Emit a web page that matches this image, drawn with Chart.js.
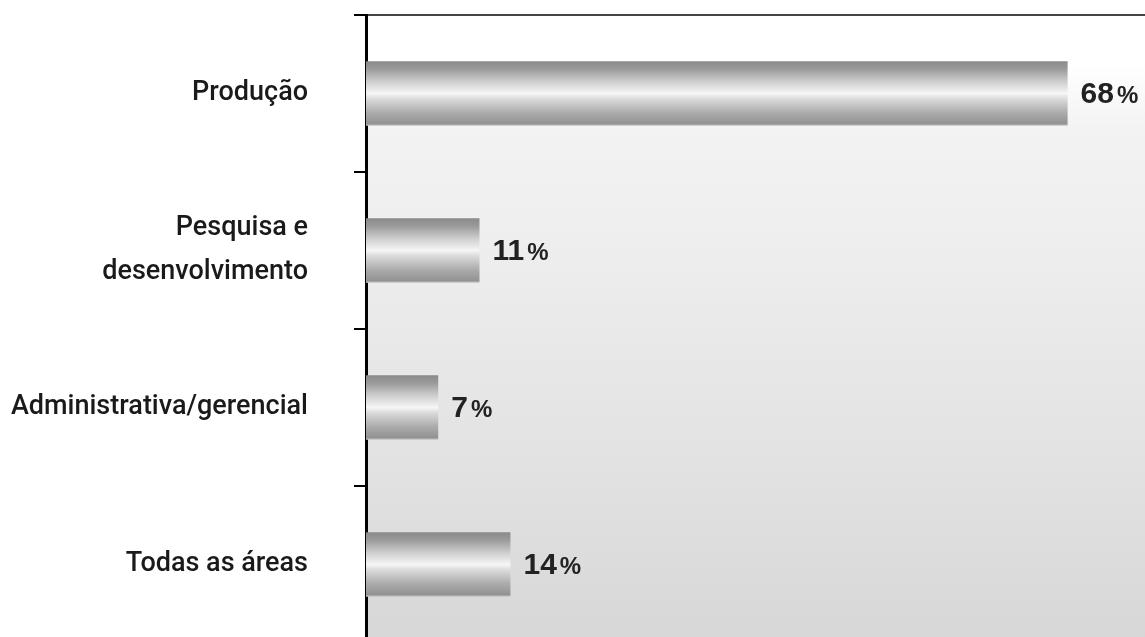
<!DOCTYPE html>
<html>
<head>
<meta charset="utf-8">
<script src="https://cdn.jsdelivr.net/npm/chart.js@4.4.1/dist/chart.umd.min.js"></script>
<style>
  html, body { margin: 0; padding: 0; background: #fff; overflow: hidden; }
  #wrap { width: 1145px; height: 645px; position: relative; }
</style>
</head>
<body>
<div id="wrap"><canvas id="areaChart"></canvas></div>
<script>
// Áreas de atuação (%)
const categorias = ['Produção', ['Pesquisa e', 'desenvolvimento'], 'Administrativa/gerencial', 'Todas as áreas'];
const valores = [68, 11, 7, 14];
const eixoMax = 75.5;

const barPct = 0.41;

// gradiente metálico das barras, calculado a partir da escala do eixo y
function barGradient(c) {
    const chart = c.chart;
    const yScale = chart.scales.y;
    if (!yScale || !chart.chartArea) return '#b0b0b0';
    const cy = yScale.getPixelForValue(c.dataIndex);
    const h = (yScale.height / categorias.length) * barPct;
    const g = chart.ctx.createLinearGradient(0, cy - h / 2, 0, cy + h / 2);
    g.addColorStop(0, '#8a8a8a');
    g.addColorStop(0.12, '#9a9a9a');
    g.addColorStop(0.32, '#cfcfcf');
    g.addColorStop(0.5, '#f6f6f6');
    g.addColorStop(0.58, '#dcdcdc');
    g.addColorStop(0.8, '#ababab');
    g.addColorStop(0.97, '#929292');
    g.addColorStop(1, '#c8c8c8');
    return g;
}

const fundoPlugin = {
    id: 'fundo',
    beforeDraw(chart) {
        const { ctx, chartArea: a } = chart;
        const g = ctx.createLinearGradient(0, a.top, 0, a.bottom);
        g.addColorStop(0, '#ffffff');
        g.addColorStop(0.08, '#ffffff');
        g.addColorStop(0.18, '#f3f3f3');
        g.addColorStop(0.36, '#eeeeee');
        g.addColorStop(0.69, '#e3e3e3');
        g.addColorStop(1, '#d7d7d7');
        ctx.save();
        ctx.fillStyle = g;
        ctx.fillRect(a.left, a.top, a.right - a.left, a.bottom - a.top);
        ctx.restore();
    }
};

const rotulosPlugin = {
    id: 'rotulos',
    afterDatasetsDraw(chart) {
        const ctx = chart.ctx;
        const meta = chart.getDatasetMeta(0);
        ctx.save();
        ctx.fillStyle = '#222';
        ctx.textBaseline = 'middle';
        ctx.textAlign = 'left';
        meta.data.forEach((bar, i) => {
            const num = String(valores[i]);
            let x = bar.x + 13;
            const y = bar.y + 1;
            ctx.font = 'bold 30px "Liberation Sans", Arial, sans-serif';
            ctx.fillText(num, x, y);
            x += ctx.measureText(num).width + 3;
            ctx.font = 'bold 24px "Liberation Sans", Arial, sans-serif';
            ctx.fillText('%', x, y + 2);
        });
        ctx.restore();
    }
};

new Chart(document.getElementById('areaChart'), {
    type: 'bar',
    data: {
        labels: categorias,
        datasets: [{
            data: valores,
            backgroundColor: barGradient,
            borderWidth: 0,
            barPercentage: barPct,
            categoryPercentage: 1
        }]
    },
    options: {
        indexAxis: 'y',
        responsive: true,
        maintainAspectRatio: false,
        animation: false,
        layout: { padding: { top: 15, bottom: 2, left: 0, right: 0 } },
        plugins: {
            legend: { display: false },
            tooltip: { enabled: false }
        },
        scales: {
            x: {
                display: false,
                min: 0,
                max: eixoMax
            },
            y: {
                afterFit(scale) {
                    scale.width = 366;
                    scale.paddingTop = 0;
                    scale.paddingBottom = 0;
                },
                border: { display: true, color: '#000', width: 3 },
                grid: {
                    offset: true,
                    drawOnChartArea: true,
                    color: c => c.index === 0 ? '#444' : 'rgba(0,0,0,0)',
                    tickColor: '#000',
                    tickLength: 12,
                    lineWidth: 2
                },
                ticks: {
                    color: '#1a1a1a',
                    padding: 46,
                    font: { family: 'Roboto, "Liberation Sans", sans-serif', size: 27, weight: '500', lineHeight: 1.63 }
                }
            }
        }
    },
    plugins: [fundoPlugin, rotulosPlugin]
});
</script>
</body>
</html>
